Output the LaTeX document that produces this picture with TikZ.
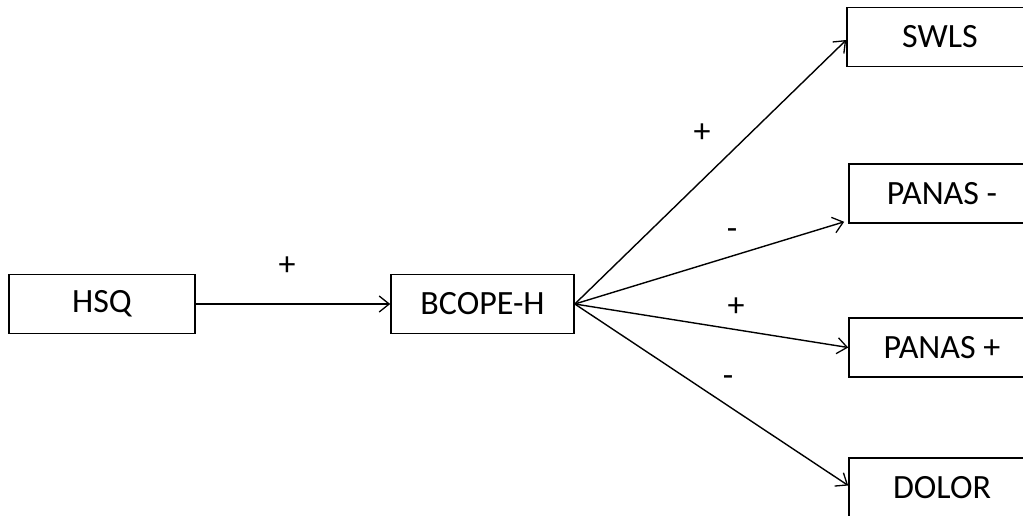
\documentclass[tikz,border=0pt]{standalone}
\usepackage{fontspec}
\setmainfont{Carlito}
\usetikzlibrary{arrows.meta}
\begin{document}
\begin{tikzpicture}[x=1pt,y=-1pt,
  box/.style={draw, line width=1.6pt, minimum width=186pt, minimum height=59pt,
    inner sep=0pt, font=\fontsize{34}{40}\selectfont},
  link/.style={line width=1.4pt, -{Straight Barb[length=10pt,width=16pt,line width=1.3pt]}},
  sign/.style={font=\fontsize{34}{40}\selectfont, inner sep=0pt}]
\clip (0,0) rectangle (1023,515);
\fill[white] (0,0) rectangle (1023,515);

% boxes
\node[box] (hsq) at (102,304) {HSQ};
\node[box, minimum width=183pt] (bc) at (482.5,304) {BCOPE-H};
\node[box] (sw) at (940,37) {SWLS};
\node[box] (pm) at (942,193.5) {PANAS -};
\node[box] (pp) at (942,347.5) {PANAS +};
\node[box] (dl) at (942,487.5) {DOLOR};

% connectors
\draw[link] (hsq.east) -- (bc.west);
\draw[link] (bc.east) -- ([yshift=-3pt]sw.west);
\draw[link] (bc.east) -- ([xshift=-4pt,yshift=2pt]pm.south west);
\draw[link] (bc.east) -- (pp.west);
\draw[link] (bc.east) -- ([yshift=2pt]dl.west);

% signs
\node[sign] (s1) at (287,266) {+};
\node[sign] (s2) at (702,133) {+};
\node[sign] (s3) at (732,234) {-};
\node[sign] (s4) at (736,307) {+};
\node[sign] (s5) at (728,381) {-};
\end{tikzpicture}
\end{document}
